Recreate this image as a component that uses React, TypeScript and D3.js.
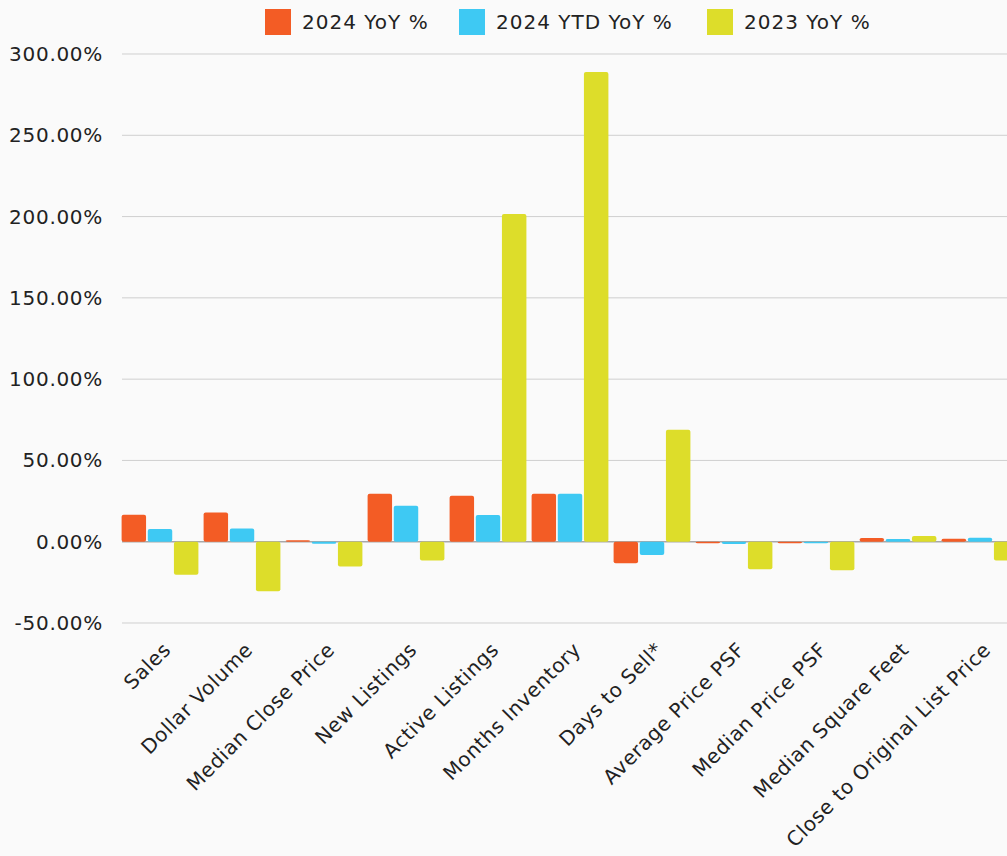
import React from "react";
import * as d3 from "d3";

const categories = [
  "Sales",
  "Dollar Volume",
  "Median Close Price",
  "New Listings",
  "Active Listings",
  "Months Inventory",
  "Days to Sell*",
  "Average Price PSF",
  "Median Price PSF",
  "Median Square Feet",
  "Close to Original List Price",
];
const seriesNames = ["2024 YoY %", "2024 YTD YoY %", "2023 YoY %"];
const seriesColors = ["#F35C25", "#3EC9F3", "#DDDD2A"];
const yoy2024 = [16.6, 18.0, 0.3, 29.5, 28.3, 29.5, -13.3, -0.5, -0.3, 2.3, 1.8];
const ytd2024 = [7.8, 8.2, -1.2, 22.1, 16.4, 29.5, -8.2, -1.4, -0.8, 1.6, 2.5];
const yoy2023 = [-20.3, -30.5, -15.2, -11.5, 201.6, 289, 68.9, -17.0, -17.6, 3.5, -11.5];
const yTicks = [-50, 0, 50, 100, 150, 200, 250, 300];

const W = 1007;
const H = 856;
const FONT = "DejaVu Sans, sans-serif";

export default function App() {
  const series = [yoy2024, ytd2024, yoy2023];
  const y = d3.scaleLinear().domain([-50, 300]).range([623, 54]);
  const x0 = d3.scaleBand<string>().domain(categories).range([119, 1021]).padding(0);
  const x1 = d3
    .scaleBand<number>()
    .domain([0, 1, 2])
    .range([2.6, 79.4])
    .paddingInner(0.065);
  const fmt = (v: number) => `${v.toFixed(2)}%`;

  const legendX = [265, 459, 707];

  return (
    <svg
      width={W}
      height={H}
      style={{ position: "absolute", left: 0, top: 0, background: "#FAFAFA" }}
      fontFamily={FONT}
    >
      <rect x={0} y={0} width={W} height={H} fill="#FAFAFA" />
      {yTicks.map((t) => (
        <line
          key={t}
          x1={122}
          x2={W}
          y1={y(t)}
          y2={y(t)}
          stroke={t === 0 ? "#A8A8A8" : "#CFCFCF"}
          strokeWidth={t === 0 ? 1.5 : 1}
        />
      ))}
      {yTicks.map((t) => (
        <text
          key={"l" + t}
          x={103}
          y={y(t)}
          dy="0.35em"
          textAnchor="end"
          fontSize={20}
          letterSpacing={0.7}
          fill="#222"
        >
          {fmt(t)}
        </text>
      ))}
      {categories.map((c, i) => (
        <g key={c} transform={`translate(${x0(c)},0)`}>
          {series.map((s, k) => {
            const v = s[i];
            const h = Math.max(1.5, Math.abs(y(v) - y(0)));
            return (
              <rect
                key={k}
                x={x1(k)}
                y={v >= 0 ? y(0) - h : y(0)}
                width={x1.bandwidth()}
                height={h}
                rx={2}
                fill={seriesColors[k]}
              />
            );
          })}
        </g>
      ))}
      {categories.map((c) => {
        const cx = (x0(c) as number) + x0.bandwidth() / 2;
        return (
          <text
            key={"x" + c}
            transform={`translate(${cx + 12},${651}) rotate(-45)`}
            textAnchor="end"
            fontSize={20}
            letterSpacing={0.6}
            fill="#222"
          >
            {c}
          </text>
        );
      })}
      {seriesNames.map((n, k) => (
        <g key={n} transform={`translate(${legendX[k]},9)`}>
          <rect width={26} height={26} fill={seriesColors[k]} />
          <text x={37} y={13} dy="0.35em" fontSize={20} letterSpacing={1} fill="#222">
            {n}
          </text>
        </g>
      ))}
    </svg>
  );
}
